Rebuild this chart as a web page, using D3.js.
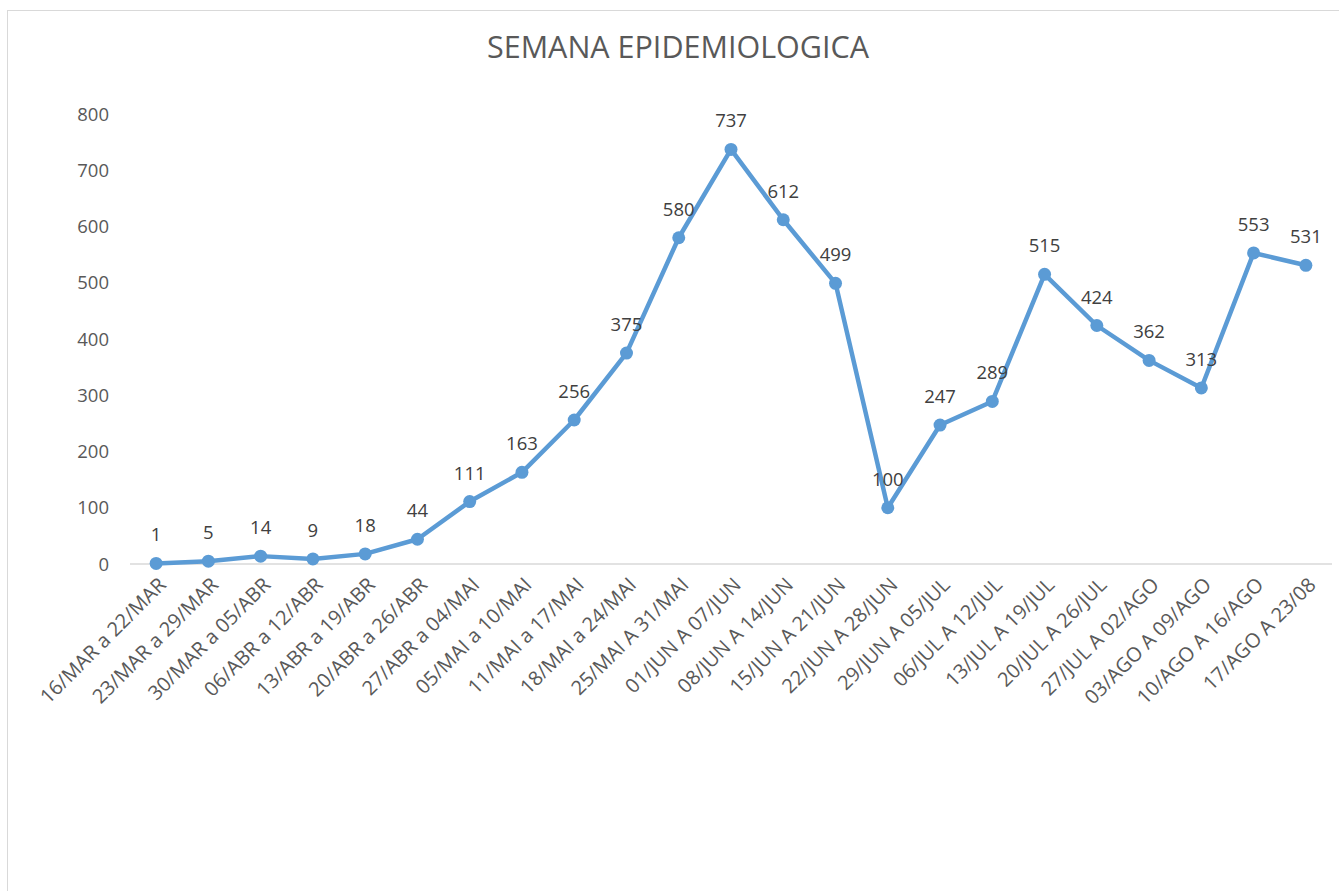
<!DOCTYPE html>
<html><head><meta charset="utf-8">
<script src="https://cdn.jsdelivr.net/npm/d3@7/dist/d3.min.js"></script>
<style>body{margin:0;background:#fff}svg{display:block;font-family:"Open Sans","Noto Sans",sans-serif}</style>
</head><body>
<svg id="c" width="1339" height="891"></svg>
<script>
const categories = ["16/MAR a 22/MAR","23/MAR a 29/MAR","30/MAR a 05/ABR","06/ABR a 12/ABR","13/ABR a 19/ABR","20/ABR a 26/ABR","27/ABR a 04/MAI","05/MAI a 10/MAI","11/MAI a 17/MAI","18/MAI a 24/MAI","25/MAI A 31/MAI","01/JUN A 07/JUN","08/JUN A 14/JUN","15/JUN A 21/JUN","22/JUN A 28/JUN","29/JUN A 05/JUL","06/JUL A 12/JUL","13/JUL A 19/JUL","20/JUL A 26/JUL","27/JUL A 02/AGO","03/AGO A 09/AGO","10/AGO A 16/AGO","17/AGO A 23/08"];
const values = [1,5,14,9,18,44,111,163,256,375,580,737,612,499,100,247,289,515,424,362,313,553,531];
const yTicks = [0,100,200,300,400,500,600,700,800];
const title = "SEMANA EPIDEMIOLOGICA";

const svg = d3.select("#c");
svg.append("rect").attr("x",7.5).attr("y",10.5).attr("width",1400).attr("height",1000)
  .attr("fill","#fff").attr("stroke","#d9d9d9").attr("stroke-width",1);

const x = d3.scalePoint().domain(categories).range([130,1332]).padding(0.5);
const y = d3.scaleLinear().domain([0,800]).range([564,114]);

svg.append("text").attr("x",678).attr("y",58).attr("text-anchor","middle")
  .attr("font-size",30.5).attr("fill","#595959").text(title);

svg.selectAll(".yt").data(yTicks).enter().append("text")
  .attr("x",109).attr("y",d=>y(d)).attr("dy","0.36em").attr("text-anchor","end")
  .attr("font-size",18.5).attr("fill","#595959").text(d=>d);

svg.append("line").attr("x1",130).attr("x2",1332).attr("y1",y(0)).attr("y2",y(0))
  .attr("stroke","#d9d9d9").attr("stroke-width",1.5);

svg.selectAll(".xt").data(categories).enter().append("text")
  .attr("transform",d=>`translate(${x(d)+6},${y(0)+17}) rotate(-45)`)
  .attr("text-anchor","end").attr("dy","0.36em")
  .attr("font-size",20).attr("fill","#595959").text(d=>d);

const line = d3.line().x((d,i)=>x(categories[i])).y(d=>y(d));
svg.append("path").datum(values).attr("d",line).attr("fill","none")
  .attr("stroke","#5b9bd5").attr("stroke-width",4.5).attr("stroke-linejoin","round");

svg.selectAll(".pt").data(values).enter().append("circle")
  .attr("cx",(d,i)=>x(categories[i])).attr("cy",d=>y(d)).attr("r",6.5).attr("fill","#5b9bd5");

svg.selectAll(".lb").data(values).enter().append("text")
  .attr("x",(d,i)=>x(categories[i])).attr("y",d=>y(d)-22)
  .attr("text-anchor","middle").attr("font-size",18.5).attr("fill","#404040").text(d=>d);
</script>
</body></html>
